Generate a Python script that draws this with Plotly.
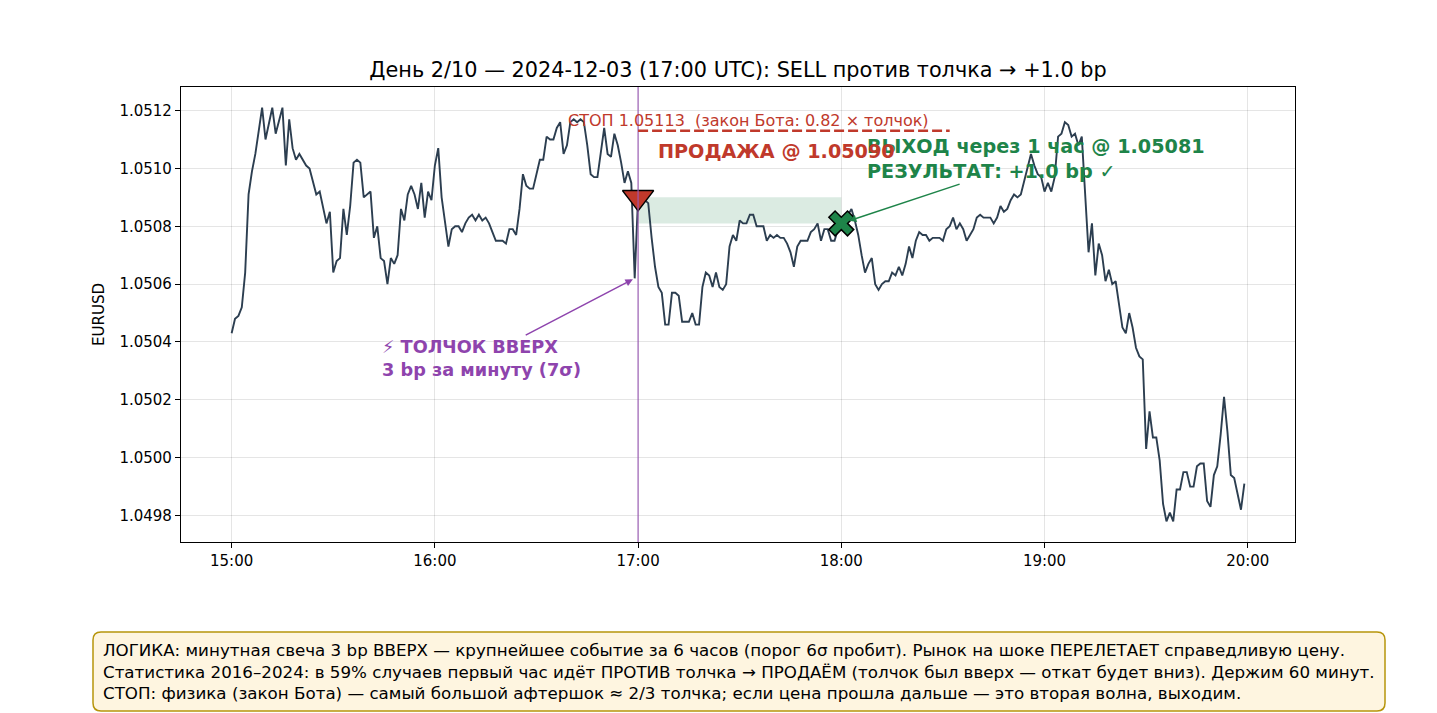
import numpy as np
import pandas as pd
import plotly.graph_objects as go

# EURUSD minute closes, 2024-12-03, one list per hour (UTC)
h15 = [1.05043, 1.05048, 1.05049, 1.05052, 1.05064, 1.05091, 1.05099, 1.05105, 1.05113, 1.05121,
       1.05110, 1.05116, 1.05121, 1.05112, 1.05117, 1.05121, 1.05101, 1.05117, 1.05107, 1.05103,
       1.05105, 1.05103, 1.05101, 1.05100, 1.05095, 1.05091, 1.05092, 1.05087, 1.05081, 1.05085,
       1.05064, 1.05068, 1.05069, 1.05086, 1.05077, 1.05087, 1.05102, 1.05103, 1.05102, 1.05090,
       1.05091, 1.05092, 1.05076, 1.05080, 1.05069, 1.05068, 1.05060, 1.05069, 1.05067, 1.05070,
       1.05086, 1.05082, 1.05091, 1.05094, 1.05091, 1.05086, 1.05095, 1.05083, 1.05092, 1.05089]
h16 = [1.05101, 1.05107, 1.05090, 1.05082, 1.05073, 1.05079, 1.05080, 1.05080, 1.05078, 1.05081,
       1.05083, 1.05084, 1.05082, 1.05084, 1.05082, 1.05083, 1.05081, 1.05078, 1.05075, 1.05075,
       1.05075, 1.05074, 1.05079, 1.05079, 1.05077, 1.05086, 1.05098, 1.05094, 1.05093, 1.05093,
       1.05098, 1.05103, 1.05103, 1.05111, 1.05110, 1.05110, 1.05114, 1.05116, 1.05105, 1.05108,
       1.05116, 1.05117, 1.05116, 1.05117, 1.05116, 1.05108, 1.05098, 1.05097, 1.05097, 1.05105,
       1.05114, 1.05105, 1.05104, 1.05112, 1.05108, 1.05102, 1.05095, 1.05099, 1.05095, 1.05062]
h17 = [1.05090, 1.05090, 1.05089, 1.05088, 1.05076, 1.05066, 1.05059, 1.05057, 1.05046, 1.05046,
       1.05057, 1.05057, 1.05056, 1.05047, 1.05047, 1.05047, 1.05050, 1.05046, 1.05046, 1.05059,
       1.05064, 1.05063, 1.05059, 1.05064, 1.05059, 1.05058, 1.05060, 1.05073, 1.05077, 1.05075,
       1.05082, 1.05081, 1.05081, 1.05084, 1.05084, 1.05080, 1.05080, 1.05080, 1.05075, 1.05077,
       1.05076, 1.05077, 1.05076, 1.05076, 1.05074, 1.05071, 1.05066, 1.05073, 1.05075, 1.05075,
       1.05075, 1.05078, 1.05079, 1.05081, 1.05075, 1.05079, 1.05079, 1.05075, 1.05075, 1.05079]
h18 = [1.05081, 1.05083, 1.05084, 1.05086, 1.05082, 1.05077, 1.05070, 1.05064, 1.05067, 1.05069,
       1.05060, 1.05058, 1.05060, 1.05061, 1.05061, 1.05064, 1.05063, 1.05066, 1.05063, 1.05067,
       1.05073, 1.05069, 1.05075, 1.05078, 1.05077, 1.05077, 1.05075, 1.05076, 1.05076, 1.05076,
       1.05075, 1.05079, 1.05080, 1.05083, 1.05079, 1.05081, 1.05079, 1.05075, 1.05077, 1.05079,
       1.05083, 1.05084, 1.05083, 1.05083, 1.05083, 1.05081, 1.05083, 1.05087, 1.05085, 1.05086,
       1.05089, 1.05091, 1.05090, 1.05091, 1.05096, 1.05101, 1.05105, 1.05101, 1.05098, 1.05097]
h19 = [1.05092, 1.05095, 1.05092, 1.05097, 1.05111, 1.05112, 1.05116, 1.05115, 1.05111, 1.05112,
       1.05108, 1.05111, 1.05093, 1.05071, 1.05081, 1.05063, 1.05074, 1.05070, 1.05061, 1.05065,
       1.05060, 1.05061, 1.05053, 1.05045, 1.05043, 1.05050, 1.05045, 1.05038, 1.05035, 1.05034,
       1.05003, 1.05016, 1.05007, 1.05007, 1.04999, 1.04984, 1.04978, 1.04981, 1.04978, 1.04989,
       1.04989, 1.04995, 1.04995, 1.04990, 1.04990, 1.04997, 1.04998, 1.04998, 1.04985, 1.04983,
       1.04994, 1.04997, 1.05008, 1.05021, 1.05009, 1.04994, 1.04993, 1.04988, 1.04982, 1.04991]

price = h15 + h16 + h17 + h18 + h19
t = pd.date_range("2024-12-03 15:00", periods=len(price), freq="min")

shock_i = 119          # the 3 bp candle (16:59)
entry_time = pd.Timestamp("2024-12-03 17:00")
exit_time = pd.Timestamp("2024-12-03 18:00")
entry_price = 1.05090
exit_price = 1.05081
stop_price = 1.05113
stop_end = pd.Timestamp("2024-12-03 18:32")

RED = "#c0392b"
GREEN = "#1e8449"
PURPLE = "#8e44ad"
NAVY = "#2c3e50"
FONT = "DejaVu Sans"

W, H = 1437, 713
ML, MR, MT, MB = 173, 150, 79, 179

span = t[-1] - t[0]
xr = [t[0] - span * 0.05, t[-1] + span * 0.05]
pad = (max(price) - min(price)) * 0.05
yr = [min(price) - pad, max(price) + pad]


def px2paper(x, y):
    # figure pixel -> paper coords
    return (x - ML) / (W - ML - MR), (H - MB - y) / (H - MT - MB)


def rounded_box(x0, y0, x1, y1, r):
    pts = []
    a, b = px2paper(x0 + r, y0)
    pts.append(f"M{a},{b}")
    for (cx, cy, ex, ey) in [(x1, y0, x1, y0 + r), (x1, y1, x1 - r, y1),
                             (x0, y1, x0, y1 - r), (x0, y0, x0 + r, y0)]:
        if ex == x1 and ey == y0 + r:
            a, b = px2paper(x1 - r, y0)
        elif ey == y1:
            a, b = px2paper(x1, y1 - r)
        elif ex == x0:
            a, b = px2paper(x0 + r, y1)
        else:
            a, b = px2paper(x0, y0 + r)
        pts.append(f"L{a},{b}")
        qa, qb = px2paper(cx, cy)
        ea, eb = px2paper(ex, ey)
        pts.append(f"Q{qa},{qb} {ea},{eb}")
    return " ".join(pts) + " Z"


fig = go.Figure()

# held position zone
fig.add_shape(type="rect", x0=entry_time, x1=exit_time, y0=exit_price, y1=entry_price,
              fillcolor="rgba(30,132,73,0.16)", line=dict(width=0), layer="below")
# shock moment
fig.add_shape(type="line", x0=entry_time, x1=entry_time, y0=0, y1=1, yref="paper",
              line=dict(color="rgba(155,89,182,0.75)", width=1.5))
# stop level
fig.add_shape(type="line", x0=entry_time, x1=stop_end, y0=stop_price, y1=stop_price,
              line=dict(color=RED, width=2.4, dash="10px,4px"))

fig.add_trace(go.Scatter(x=t, y=price, mode="lines", line=dict(color=NAVY, width=1.9),
                         hoverinfo="x+y"))
fig.add_trace(go.Scatter(x=[entry_time], y=[entry_price], mode="markers",
                         marker=dict(symbol="triangle-down", size=27, color=RED,
                                     line=dict(color="black", width=1.5))))
fig.add_trace(go.Scatter(x=[exit_time], y=[exit_price], mode="markers",
                         marker=dict(symbol="x", size=22, color=GREEN,
                                     line=dict(color="black", width=1.5))))

fig.add_annotation(x=t[shock_i], y=price[shock_i], ax=pd.Timestamp("2024-12-03 16:13:48"), ay=1.050344,
                   axref="x", ayref="y", text="⚡ ТОЛЧОК ВВЕРХ<br>3 bp за минуту (7σ)",
                   align="left", showarrow=True, arrowhead=2, arrowsize=1, arrowwidth=1.5,
                   arrowcolor=PURPLE, standoff=2,
                   font=dict(family=FONT, size=17.7, color=PURPLE, weight="bold"))
fig.add_annotation(x=exit_time, y=exit_price, ax=pd.Timestamp("2024-12-03 18:57:36"), ay=1.051034,
                   axref="x", ayref="y",
                   text="ВЫХОД через 1 час @ 1.05081<br>РЕЗУЛЬТАТ: +1.0 bp ✓",
                   align="left", showarrow=True, arrowhead=2, arrowsize=1, arrowwidth=1.5,
                   arrowcolor=GREEN, standoff=8,
                   font=dict(family=FONT, size=19.2, color=GREEN, weight="bold"))
fig.add_annotation(x=pd.Timestamp("2024-12-03 17:05:24"), y=1.051058, xanchor="left",
                   text="ПРОДАЖА @ 1.05090", showarrow=False,
                   font=dict(family=FONT, size=19.2, color=RED, weight="bold"))
fig.add_annotation(x=pd.Timestamp("2024-12-03 17:32:36"), y=stop_price, yanchor="bottom",
                   text="СТОП 1.05113  (закон Бота: 0.82 × толчок)", showarrow=False,
                   borderpad=0, font=dict(family=FONT, size=16, color=RED))

# explanation box under the chart
fig.add_shape(type="path", xref="paper", yref="paper",
              path=rounded_box(92 - 7, 631 - 7, 1384 - 7, 710 - 7, 8),
              fillcolor="#fef5e0", line=dict(color="#b7950b", width=1.5))
box_text = ("ЛОГИКА: минутная свеча 3 bp ВВЕРХ — крупнейшее событие за 6 часов (порог 6σ пробит). "
            "Рынок на шоке ПЕРЕЛЕТАЕТ справедливую цену.<br>"
            "Статистика 2016–2024: в 59% случаев первый час идёт ПРОТИВ толчка → ПРОДАЁМ "
            "(толчок был вверх — откат будет вниз). Держим 60 минут.<br>"
            "СТОП: физика (закон Бота) — самый большой афтершок ≈ 2/3 толчка; "
            "если цена прошла дальше — это вторая волна, выходим.")
bx, by = px2paper(101 - 7, 670.5 - 7)
fig.add_annotation(xref="paper", yref="paper", x=bx, y=by, xanchor="left", yanchor="middle",
                   text=box_text, showarrow=False, align="left", borderpad=0,
                   font=dict(family=FONT, size=16.7, color="black"))

fig.update_layout(
    width=W, height=H,
    margin=dict(l=ML, r=MR, t=MT, b=MB),
    paper_bgcolor="white", plot_bgcolor="white",
    showlegend=False,
    font=dict(family=FONT, size=15, color="black"),
    title=dict(text="День 2/10 — 2024-12-03 (17:00 UTC): SELL против толчка → +1.0 bp",
               x=0.5, xref="paper", y=1 - 62 / H, yanchor="middle",
               font=dict(family=FONT, size=20.8, color="black")),
)
fig.update_xaxes(range=xr, tickformat="%H:%M", dtick=3600000, tick0="2024-12-03 15:00",
                 showgrid=True, gridcolor="rgba(0,0,0,0.1)", gridwidth=1,
                 showline=True, linecolor="black", linewidth=1.2, mirror=True,
                 ticks="outside", ticklen=5, tickcolor="black", zeroline=False)
fig.update_yaxes(range=yr, dtick=0.0002, tick0=1.0498, tickformat=".4f",
                 title=dict(text="EURUSD", standoff=11, font=dict(size=15)),
                 showgrid=True, gridcolor="rgba(0,0,0,0.1)", gridwidth=1,
                 showline=True, linecolor="black", linewidth=1.2, mirror=True,
                 ticks="outside", ticklen=5, tickcolor="black", zeroline=False)

fig.write_html("out.html")
